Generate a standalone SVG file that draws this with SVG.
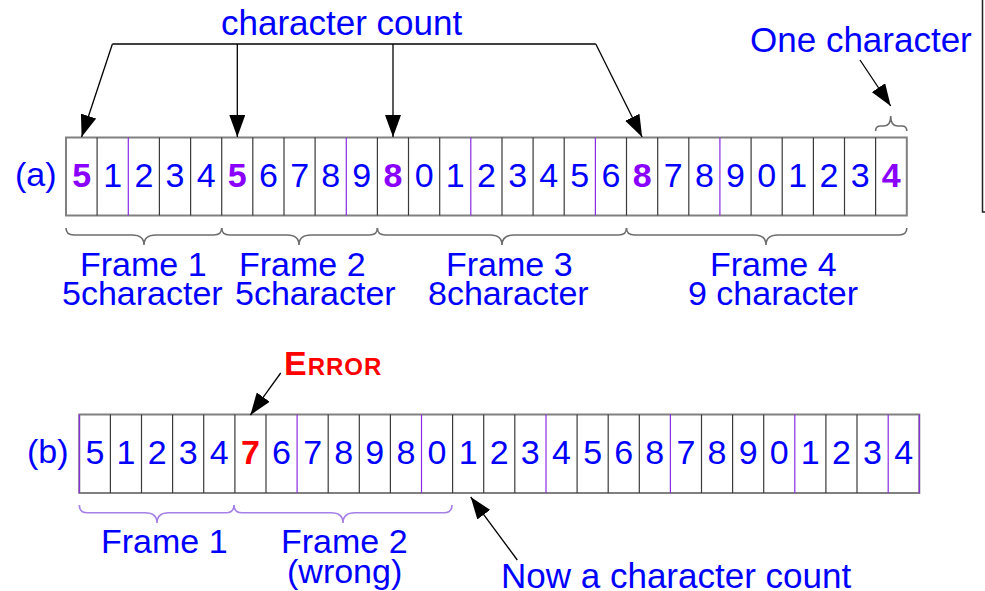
<svg xmlns="http://www.w3.org/2000/svg" width="985" height="591" viewBox="0 0 985 591">
  <style>
    text { font-family: "Liberation Sans", Arial, sans-serif; }
    .lbl { fill: #0000ff; font-size: 34px; }
    .big { fill: #0000ff; font-size: 35px; }
    .dig { fill: #0000ff; font-size: 34px; text-anchor: middle; }
    .cnt { fill: #8a00ff; font-size: 34px; font-weight: bold; text-anchor: middle; }
    .err { fill: #ff0000; font-size: 34px; font-weight: bold; text-anchor: middle; }
    .errlbl { fill: #ff0000; font-weight: bold; }
    .frame { fill: #ffffff; stroke: #808080; stroke-width: 2; }
    .div { stroke: #3a3a3a; stroke-width: 1.2; }
    .divp { stroke: #8a2be2; stroke-width: 1.2; }
    .brace { fill: none; stroke: #6e6e6e; stroke-width: 1.6; }
    .braceb { fill: none; stroke: #a57fe8; stroke-width: 1.6; }
    .conn { fill: none; stroke: #000000; stroke-width: 1.3; }
  </style>
  <defs>
    <marker id="arrow" viewBox="0 0 22 16" refX="22" refY="8" markerWidth="22" markerHeight="16" markerUnits="userSpaceOnUse" orient="auto">
      <path d="M0,0 L22,8 L0,16 Z" fill="#000000"/>
    </marker>
  </defs>

  <rect width="985" height="591" fill="#ffffff"/>

  <!-- edge of neighbouring box on the right -->
  <path d="M982.5,0 V212 H986" fill="none" stroke="#222222" stroke-width="1.5"/>

  <!-- (a) character stream -->
  <g id="row-a">
    <text class="lbl" x="15" y="186">(a)</text>
    <rect class="frame" x="66" y="137.5" width="840.8" height="78"/>
    <g class="div">
      <line x1="97.1" y1="137.5" x2="97.1" y2="215.5"/>
      <line x1="159.4" y1="137.5" x2="159.4" y2="215.5"/>
      <line x1="190.6" y1="137.5" x2="190.6" y2="215.5"/>
      <line x1="221.7" y1="137.5" x2="221.7" y2="215.5"/>
      <line x1="252.8" y1="137.5" x2="252.8" y2="215.5"/>
      <line x1="284.0" y1="137.5" x2="284.0" y2="215.5"/>
      <line x1="315.1" y1="137.5" x2="315.1" y2="215.5"/>
      <line x1="377.4" y1="137.5" x2="377.4" y2="215.5"/>
      <line x1="408.5" y1="137.5" x2="408.5" y2="215.5"/>
      <line x1="439.7" y1="137.5" x2="439.7" y2="215.5"/>
      <line x1="502.0" y1="137.5" x2="502.0" y2="215.5"/>
      <line x1="533.1" y1="137.5" x2="533.1" y2="215.5"/>
      <line x1="564.2" y1="137.5" x2="564.2" y2="215.5"/>
      <line x1="626.5" y1="137.5" x2="626.5" y2="215.5"/>
      <line x1="657.7" y1="137.5" x2="657.7" y2="215.5"/>
      <line x1="688.8" y1="137.5" x2="688.8" y2="215.5"/>
      <line x1="751.1" y1="137.5" x2="751.1" y2="215.5"/>
      <line x1="782.2" y1="137.5" x2="782.2" y2="215.5"/>
      <line x1="813.4" y1="137.5" x2="813.4" y2="215.5"/>
      <line x1="844.5" y1="137.5" x2="844.5" y2="215.5"/>
      <line x1="875.6" y1="137.5" x2="875.6" y2="215.5"/>
    </g>
    <g class="divp">
      <line x1="128.3" y1="137.5" x2="128.3" y2="215.5"/>
      <line x1="346.3" y1="137.5" x2="346.3" y2="215.5"/>
      <line x1="470.8" y1="137.5" x2="470.8" y2="215.5"/>
      <line x1="595.4" y1="137.5" x2="595.4" y2="215.5"/>
      <line x1="719.9" y1="137.5" x2="719.9" y2="215.5"/>
    </g>
    <text class="cnt" x="81.6" y="187">5</text>
    <text class="dig" x="112.7" y="187">1</text>
    <text class="dig" x="143.9" y="187">2</text>
    <text class="dig" x="175.0" y="187">3</text>
    <text class="dig" x="206.1" y="187">4</text>
    <text class="cnt" x="237.3" y="187">5</text>
    <text class="dig" x="268.4" y="187">6</text>
    <text class="dig" x="299.6" y="187">7</text>
    <text class="dig" x="330.7" y="187">8</text>
    <text class="dig" x="361.8" y="187">9</text>
    <text class="cnt" x="393.0" y="187">8</text>
    <text class="dig" x="424.1" y="187">0</text>
    <text class="dig" x="455.3" y="187">1</text>
    <text class="dig" x="486.4" y="187">2</text>
    <text class="dig" x="517.6" y="187">3</text>
    <text class="dig" x="548.7" y="187">4</text>
    <text class="dig" x="579.8" y="187">5</text>
    <text class="dig" x="611.0" y="187">6</text>
    <text class="cnt" x="642.1" y="187">8</text>
    <text class="dig" x="673.3" y="187">7</text>
    <text class="dig" x="704.4" y="187">8</text>
    <text class="dig" x="735.5" y="187">9</text>
    <text class="dig" x="766.7" y="187">0</text>
    <text class="dig" x="797.8" y="187">1</text>
    <text class="dig" x="829.0" y="187">2</text>
    <text class="dig" x="860.1" y="187">3</text>
    <text class="cnt" x="891.2" y="187">4</text>
  </g>

  <!-- frame groupings for (a) -->
  <g id="frames-a">
    <path class="brace" d="M66,228 Q66,235 74,235 H132 Q144,235 144,245 Q144,235 156,235 H213.7 Q221.7,235 221.7,228"/>
    <path class="brace" d="M221.7,228 Q221.7,235 229.7,235 H287 Q299,235 299,245 Q299,235 311,235 H369.4 Q377.4,235 377.4,228"/>
    <path class="brace" d="M377.4,228 Q377.4,235 385.4,235 H490 Q502,235 502,245 Q502,235 514,235 H618.5 Q626.5,235 626.5,228"/>
    <path class="brace" d="M626.5,228 Q626.5,235 634.5,235 H754 Q766,235 766,245 Q766,235 778,235 H898.8 Q906.8,235 906.8,228"/>
    <text class="lbl" x="80" y="276">Frame 1</text>
    <text class="lbl" x="62" y="305">5character</text>
    <text class="lbl" x="239" y="276">Frame 2</text>
    <text class="lbl" x="235" y="305">5character</text>
    <text class="lbl" x="446" y="276">Frame 3</text>
    <text class="lbl" x="428" y="305">8character</text>
    <text class="lbl" x="710" y="276">Frame 4</text>
    <text class="lbl" x="688" y="305">9 character</text>
  </g>

  <!-- character count callout -->
  <g id="count-label">
    <text class="big" x="221" y="35">character count</text>
  </g>

  <!-- one character callout -->
  <g id="one-char">
    <text class="big" x="750" y="52">One character</text>
    <path class="brace" d="M875.6,131 Q875.6,126 880.6,126 H884 Q890.7,126 890.7,116 Q890.7,126 897.4,126 H901.8 Q906.8,126 906.8,131"/>
  </g>

  <!-- (b) character stream -->
  <g id="row-b">
    <text class="lbl" x="27" y="463">(b)</text>
    <rect class="frame" x="79.3" y="414.5" width="840" height="78.5"/>
    <g class="div">
      <line x1="110.4" y1="414.5" x2="110.4" y2="493"/>
      <line x1="141.5" y1="414.5" x2="141.5" y2="493"/>
      <line x1="172.6" y1="414.5" x2="172.6" y2="493"/>
      <line x1="203.7" y1="414.5" x2="203.7" y2="493"/>
      <line x1="234.9" y1="414.5" x2="234.9" y2="493"/>
      <line x1="266.0" y1="414.5" x2="266.0" y2="493"/>
      <line x1="328.2" y1="414.5" x2="328.2" y2="493"/>
      <line x1="359.3" y1="414.5" x2="359.3" y2="493"/>
      <line x1="390.4" y1="414.5" x2="390.4" y2="493"/>
      <line x1="452.6" y1="414.5" x2="452.6" y2="493"/>
      <line x1="483.7" y1="414.5" x2="483.7" y2="493"/>
      <line x1="514.8" y1="414.5" x2="514.8" y2="493"/>
      <line x1="577.1" y1="414.5" x2="577.1" y2="493"/>
      <line x1="608.2" y1="414.5" x2="608.2" y2="493"/>
      <line x1="639.3" y1="414.5" x2="639.3" y2="493"/>
      <line x1="701.5" y1="414.5" x2="701.5" y2="493"/>
      <line x1="732.6" y1="414.5" x2="732.6" y2="493"/>
      <line x1="763.7" y1="414.5" x2="763.7" y2="493"/>
      <line x1="825.9" y1="414.5" x2="825.9" y2="493"/>
      <line x1="857.0" y1="414.5" x2="857.0" y2="493"/>
    </g>
    <g class="divp">
      <line x1="79.3" y1="414.5" x2="79.3" y2="493"/>
      <line x1="297.1" y1="414.5" x2="297.1" y2="493"/>
      <line x1="421.5" y1="414.5" x2="421.5" y2="493"/>
      <line x1="546.0" y1="414.5" x2="546.0" y2="493"/>
      <line x1="670.4" y1="414.5" x2="670.4" y2="493"/>
      <line x1="794.8" y1="414.5" x2="794.8" y2="493"/>
      <line x1="888.2" y1="414.5" x2="888.2" y2="493"/>
      <line x1="919.3" y1="414.5" x2="919.3" y2="493"/>
    </g>
    <text class="dig" x="94.9" y="464">5</text>
    <text class="dig" x="126.0" y="464">1</text>
    <text class="dig" x="157.1" y="464">2</text>
    <text class="dig" x="188.2" y="464">3</text>
    <text class="dig" x="219.3" y="464">4</text>
    <text class="err" x="250.4" y="464">7</text>
    <text class="dig" x="281.5" y="464">6</text>
    <text class="dig" x="312.6" y="464">7</text>
    <text class="dig" x="343.7" y="464">8</text>
    <text class="dig" x="374.8" y="464">9</text>
    <text class="dig" x="405.9" y="464">8</text>
    <text class="dig" x="437.0" y="464">0</text>
    <text class="dig" x="468.1" y="464">1</text>
    <text class="dig" x="499.2" y="464">2</text>
    <text class="dig" x="530.3" y="464">3</text>
    <text class="dig" x="561.5" y="464">4</text>
    <text class="dig" x="592.6" y="464">5</text>
    <text class="dig" x="623.7" y="464">6</text>
    <text class="dig" x="654.8" y="464">8</text>
    <text class="dig" x="685.9" y="464">7</text>
    <text class="dig" x="717.0" y="464">8</text>
    <text class="dig" x="748.1" y="464">9</text>
    <text class="dig" x="779.2" y="464">0</text>
    <text class="dig" x="810.3" y="464">1</text>
    <text class="dig" x="841.4" y="464">2</text>
    <text class="dig" x="872.5" y="464">3</text>
    <text class="dig" x="903.6" y="464">4</text>
  </g>

  <!-- frame groupings for (b) -->
  <g id="frames-b">
    <path class="braceb" d="M79.3,505 Q79.3,512.7 87.3,512.7 H145 Q157,512.7 157,523 Q157,512.7 169,512.7 H226 Q234,512.7 234,505"/>
    <path class="braceb" d="M234,505 Q234,512.7 242,512.7 H331 Q343,512.7 343,523 Q343,512.7 355,512.7 H444 Q452,512.7 452,505"/>
    <text class="lbl" x="101" y="553">Frame 1</text>
    <text class="lbl" x="281" y="553">Frame 2</text>
    <text class="lbl" x="287" y="583">(wrong)</text>
  </g>

  <!-- error callout -->
  <g id="error-label">
    <text class="errlbl" x="284" y="375" letter-spacing="1"><tspan font-size="34">E</tspan><tspan font-size="24">RROR</tspan></text>
  </g>

  <!-- new count callout -->
  <g id="new-count">
    <text class="big" x="501" y="588">Now a character count</text>
  </g>

  <!-- connectors -->
  <g id="connectors">
    <path class="conn" d="M112.4,44 H595.8"/>
    <path class="conn" d="M112.4,44 L81.6,137" marker-end="url(#arrow)"/>
    <path class="conn" d="M237.3,44 V137" marker-end="url(#arrow)"/>
    <path class="conn" d="M393,44 V137" marker-end="url(#arrow)"/>
    <path class="conn" d="M595.8,44 L642.1,137" marker-end="url(#arrow)"/>
    <path class="conn" d="M860,60 L890.7,106" marker-end="url(#arrow)"/>
    <path class="conn" d="M280.7,373 L250.4,415" marker-end="url(#arrow)"/>
    <path class="conn" d="M517.3,560 L470.7,497" marker-end="url(#arrow)"/>
  </g>
</svg>
